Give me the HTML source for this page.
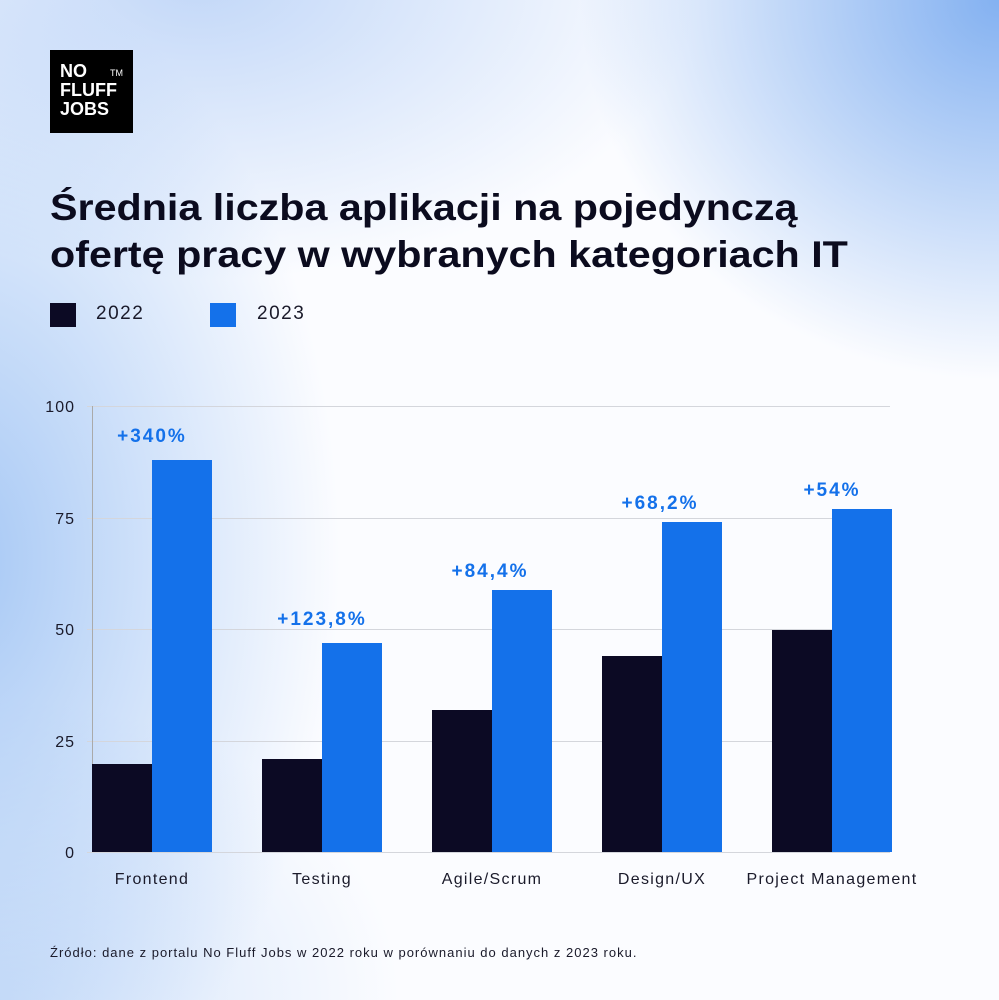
<!DOCTYPE html>
<html><head><meta charset="utf-8"><style>
body{margin:0;width:999px;height:1000px;overflow:hidden;font-family:"Liberation Sans",sans-serif;
background:
radial-gradient(ellipse 420px 380px at 1000px 0px,rgba(125,173,240,0.95) 0%,rgba(125,173,240,0) 100%),
radial-gradient(ellipse 380px 600px at -40px 560px,rgba(150,190,243,0.85) 0%,rgba(150,190,243,0) 100%),
radial-gradient(ellipse 500px 300px at 200px -20px,rgba(170,200,245,0.7) 0%,rgba(170,200,245,0) 100%),
radial-gradient(ellipse 400px 300px at 0px 1000px,rgba(180,208,246,0.6) 0%,rgba(180,208,246,0) 100%),
#fbfcff;
position:relative}
.logo{position:absolute;left:50px;top:50px;width:83px;height:83px;background:#000;color:#fff;font-weight:bold;font-size:18px;line-height:19px}
.logo div{position:absolute;left:10px;top:12px}
.tm{position:absolute;left:60px;top:14px;font-size:9px;font-weight:normal}
h1{position:absolute;left:50px;top:184px;margin:0;font-size:37px;line-height:47px;font-weight:bold;color:#0b0b1e;white-space:nowrap;transform-origin:0 0;transform:scaleX(1.115)}
.leg{position:absolute;top:303px;font-size:19px;color:#1a1a2a;letter-spacing:1.5px}
.sw{position:absolute;width:26px;height:24px}
.src{position:absolute;left:50px;top:945px;font-size:13px;color:#1a1a2a;letter-spacing:1px}
</style></head><body>
<div class="logo"><div>NO<br>FLUFF<br>JOBS</div><span class="tm">TM</span></div>
<h1>Średnia liczba aplikacji na pojedynczą<br>ofertę pracy w wybranych kategoriach IT</h1>
<div class="sw" style="left:50px;top:303px;background:#0c0a24"></div><div class="leg" style="left:96px">2022</div>
<div class="sw" style="left:210px;top:303px;background:#1471ea"></div><div class="leg" style="left:257px">2023</div>
<svg width="999" height="1000" style="position:absolute;left:0;top:0" font-family="Liberation Sans, sans-serif">
<g stroke="#d4d6dc" stroke-width="1">
<line x1="87" y1="406.5" x2="890" y2="406.5"/><line x1="87" y1="518.5" x2="890" y2="518.5"/>
<line x1="87" y1="629.5" x2="890" y2="629.5"/><line x1="87" y1="741.5" x2="890" y2="741.5"/>
<line x1="87" y1="852.5" x2="890" y2="852.5"/><line x1="92.5" y1="406" x2="92.5" y2="852" stroke="#aaa"/>
</g>
<g font-size="16" fill="#1a1a2a" text-anchor="end" letter-spacing="1">
<text x="75" y="412">100</text><text x="75" y="524">75</text><text x="75" y="635">50</text><text x="75" y="747">25</text><text x="75" y="858">0</text>
</g>
<g fill="#0c0a24">
<rect x="92" y="764" width="60" height="88"/><rect x="262" y="759" width="60" height="93"/>
<rect x="432" y="710" width="60" height="142"/><rect x="602" y="656" width="60" height="196"/>
<rect x="772" y="630" width="60" height="222"/>
</g>
<g fill="#1471ea">
<rect x="152" y="460" width="60" height="392"/><rect x="322" y="643" width="60" height="209"/>
<rect x="492" y="590" width="60" height="262"/><rect x="662" y="522" width="60" height="330"/>
<rect x="832" y="509" width="60" height="343"/>
</g>
<g font-size="19" font-weight="bold" fill="#1471ea" text-anchor="middle" letter-spacing="2">
<text x="152" y="442">+340%</text><text x="322" y="625">+123,8%</text><text x="490" y="577">+84,4%</text>
<text x="660" y="509">+68,2%</text><text x="832" y="496">+54%</text>
</g>
<g font-size="16" fill="#1a1a2a" text-anchor="middle" letter-spacing="1.3">
<text x="152" y="884">Frontend</text><text x="322" y="884">Testing</text><text x="492" y="884">Agile/Scrum</text>
<text x="662" y="884">Design/UX</text><text x="832" y="884">Project Management</text>
</g>
</svg>
<div class="src">Źródło: dane z portalu No Fluff Jobs w 2022 roku w porównaniu do danych z 2023 roku.</div>
</body></html>
